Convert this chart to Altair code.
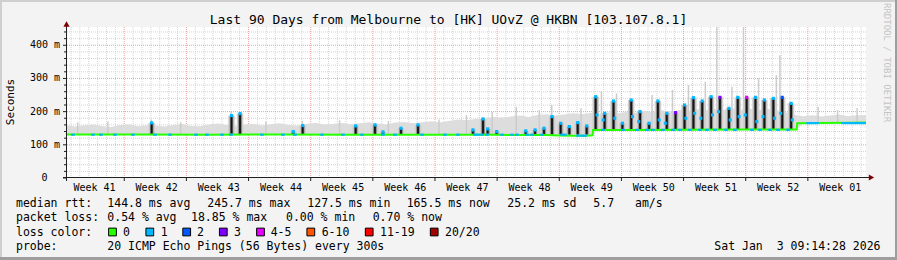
import altair as alt
import pandas as pd

# ------------------------------------------------------------------ data
title_text = "Last 90 Days from Melbourne to [HK] UOvZ @ HKBN [103.107.8.1]"
y_title = "Seconds"
watermark = "RRDTOOL / TOBI OETIKER"

week_labels = ["Week 41", "Week 42", "Week 43", "Week 44", "Week 45", "Week 46", "Week 47",
               "Week 48", "Week 49", "Week 50", "Week 51", "Week 52", "Week 01"]
week_label_day = [3.1, 10.1, 17.1, 24.1, 31.1, 38.1, 45.1, 52.1, 59.1, 66.1, 73.1, 80.1, 87.1]
week_start_day = [6.45, 13.45, 20.45, 27.45, 34.45, 41.45, 48.45, 55.45, 62.45, 69.45, 76.45, 83.45]

y_major_ms = [100, 200, 300, 400]
y_major_label = ["100 m", "200 m", "300 m", "400 m"]

# median rtt (ms) at break points (days since start of the 90-day window)
median_day = [0, 8, 16, 24, 32, 40, 48, 54, 55.5, 57, 58.5, 59.2, 59.25, 64, 70, 76, 82.2,
              82.25, 85, 88, 90]
median_ms = [131, 131, 130.5, 131, 130.5, 130.5, 130, 129.5, 128, 127, 127.5, 128.5, 145, 145,
             145.5, 146, 146, 165, 165.5, 166.5, 167]

# smoke (ping spread) envelope, one reading per day
smoke_day = list(range(91))
smoke_low_ms = [130] * 60 + [145] * 23 + [165] * 8
smoke_top_ms = [158, 155, 159, 161, 156, 154, 160, 162, 156, 159,
                158, 155, 160, 163, 157, 156, 161, 164, 160, 157,
                161, 163, 158, 162, 165, 160, 158, 163, 166, 161,
                163, 166, 162, 165, 168, 164, 161, 167, 169, 165,
                168, 171, 167, 172, 176, 174, 178, 181, 184, 182,
                185, 188, 184, 190, 192, 188, 191, 195, 192, 196,
                192, 198, 194, 200, 196, 202, 198, 204, 200, 205,
                202, 207, 204, 208, 205, 210, 206, 209, 205, 208,
                204, 198, 190, 186, 189, 185, 188, 191, 186, 189, 190]

# isolated tall smoke strands
strand_day = [1.2, 4.6, 9.5, 12.8, 18.5, 22.4, 26.5, 30.7, 36.2, 41.9, 45.0, 47.9, 50.6, 53.2,
              54.6, 57.9, 60.2, 61.9, 65.9, 68.2, 70.0, 71.9, 73.2, 74.9, 76.2, 77.9, 79.9,
              80.3, 84.6, 86.8, 89.0]
strand_low_ms = [130] * 16 + [145] * 12 + [165] * 3
strand_top_ms = [168, 170, 175, 168, 200, 170, 172, 174, 172, 176, 190, 200, 215, 205, 220, 210,
                 262, 255, 250, 265, 280, 290, 455, 275, 455, 300, 310, 370, 215, 205, 210]

# spikes of the median (dark bars)
spike_day = [9.54, 18.53, 19.49, 25.49, 26.55, 32.52, 34.69, 35.59, 37.62, 39.54, 45.73, 46.86,
             47.39, 48.40, 51.67, 52.72, 53.73, 54.63, 55.61, 56.58, 57.53, 58.54,
             59.55, 60.56, 61.56, 62.56, 63.55, 64.55, 65.56, 66.56, 67.56, 68.55, 69.56,
             70.56, 71.55, 72.55, 73.55, 74.56, 75.56, 76.56, 77.55, 78.55, 79.56, 80.56, 81.56]
spike_base_ms = [131] * 22 + [145] * 23
spike_peak_ms = [166, 188, 194, 140, 158, 157, 160, 139, 150, 160, 145, 178,
                 148, 140, 142, 145, 150, 185, 165, 155, 167, 157,
                 245, 195, 232, 165, 235, 200, 165, 232, 195, 197, 220,
                 242, 232, 245, 243, 210, 243, 243, 243, 235, 240, 243, 225]
spike_top_loss = ["1"] * 31 + ["3"] + ["1"] * 4 + ["3"] + ["1", "1", "4-5", "1", "1", "1", "2", "1"]
# loss readings part-way up the big spikes
spike_mid_day = [59.7, 60.4, 61.7, 63.7, 64.4, 66.7, 67.4, 69.7, 70.7, 71.4, 72.7, 73.4, 74.7,
                 75.7, 76.4, 77.7, 78.4, 79.7, 80.4, 81.7]
spike_mid_ms = [190, 175, 180, 185, 170, 175, 165, 180, 195, 180, 190, 200, 175, 185, 190, 170,
                185, 180, 195, 175]

# short loss-coloured stretches of the median line
loss_mark_day = [0.68, 2.93, 3.83, 5.41, 7.43, 9.91, 11.60, 14.53, 15.77, 17.46, 18.47, 21.96,
                 24.33, 25.68, 28.72, 31.09, 33.23, 35.59, 36.95, 39.99, 42.58, 44.04, 45.96,
                 46.30, 46.75, 47.31, 49.00, 50.13, 50.69, 51.82, 52.38, 53.51, 55.76, 56.09,
                 57.56, 58.01, 58.35,
                 60.37, 62.63, 64.20, 65.33, 66.00, 67.13, 68.26, 69.05, 70.17, 71.30, 72.09,
                 72.99, 74.23, 75.24, 77.16, 78.06, 79.19, 80.09, 81.22,
                 83.47, 83.81, 84.15, 84.49, 87.42, 87.75, 88.09, 88.43, 88.77, 89.10, 89.44,
                 89.78]
loss_mark_ms = [130.5] * 34 + [127.5] * 3 + [145] * 19 + [165.5] * 12
loss_mark_class = ["1"] * 68

loss_classes = ["0", "1", "2", "3", "4-5", "6-10", "11-19", "20/20"]
loss_colors = ["#26ff00", "#00b8ff", "#0059ff", "#7e00ff", "#e600ff", "#ff5500", "#ff0000", "#a00000"]

median_stats = ["144.8 ms avg", "245.7 ms max", "127.5 ms min", "165.5 ms now", "25.2 ms sd",
                "5.7", "am/s"]
loss_stats = ["0.54 % avg", "18.85 % max", "0.00 % min", "0.70 % now"]
probe_text = "20 ICMP Echo Pings (56 Bytes) every 300s"
stamp_text = "Sat Jan\u00a0 3 09:14:28 2026"

# ------------------------------------------------------------------ layout
LEFT, TOP = 67, 27
W, H = 799, 151
CW, CH = 897, 260
MONO = "DejaVu Sans Mono"
X_DOMAIN = [0, 90]
Y_DOMAIN = [0, 455]
SEG_HALF = 0.2  # half length (days) of a drawn loss stretch

xs = alt.Scale(domain=X_DOMAIN, nice=False, zero=False)
ys = alt.Scale(domain=Y_DOMAIN, nice=False, zero=True)
GREEN = loss_colors[0]
color_map = dict(zip(loss_classes, loss_colors))


def X(f):
    return alt.X(f, type="quantitative", scale=xs, axis=None)


def Y(f):
    return alt.Y(f, type="quantitative", scale=ys, axis=None)


def PX(f):
    return alt.X(f, type="quantitative", scale=None, axis=None)


def PY(f):
    return alt.Y(f, type="quantitative", scale=None, axis=None)


layers = []

# --- grid
minor_h = [v for v in range(20, 455, 20) if v % 100]
layers.append(alt.Chart(pd.DataFrame({"v": minor_h})).mark_rule(
    color="#d4d4d4", strokeDash=[1, 1], strokeWidth=1).encode(
    y=Y("v"), x=alt.value(0), x2=alt.value(W)))
minor_v = [0.45 + d for d in range(90) if all(abs(0.45 + d - w) > 0.01 for w in week_start_day)]
layers.append(alt.Chart(pd.DataFrame({"d": minor_v})).mark_rule(
    color="#d4d4d4", strokeDash=[1, 1], strokeWidth=1).encode(
    x=X("d"), y=alt.value(0), y2=alt.value(H)))
layers.append(alt.Chart(pd.DataFrame({"v": y_major_ms})).mark_rule(
    color="#eea0a0", strokeDash=[1, 1], strokeWidth=1).encode(
    y=Y("v"), x=alt.value(0), x2=alt.value(W)))
layers.append(alt.Chart(pd.DataFrame({"d": week_start_day})).mark_rule(
    color="#eea0a0", strokeDash=[1, 1], strokeWidth=1).encode(
    x=X("d"), y=alt.value(0), y2=alt.value(H)))

# --- smoke
smoke = pd.DataFrame({"d": smoke_day, "lo": smoke_low_ms, "hi": smoke_top_ms})
layers.append(alt.Chart(smoke).mark_area(color="#dddddd", interpolate="linear").encode(
    x=X("d"), y=Y("hi"), y2="lo"))
strands = pd.DataFrame({"d": strand_day, "lo": strand_low_ms, "hi": strand_top_ms})
layers.append(alt.Chart(strands).mark_rule(color="#cccccc", strokeWidth=1.5).encode(
    x=X("d"), y=Y("lo"), y2="hi"))

# --- spikes
spikes = pd.DataFrame({"d": spike_day, "lo": spike_base_ms, "hi": spike_peak_ms,
                       "loss": spike_top_loss})
layers.append(alt.Chart(spikes).mark_rule(color="#cfcfcf", strokeWidth=6.5).encode(
    x=X("d"), y=Y("lo"), y2="hi"))
layers.append(alt.Chart(spikes).mark_rule(color="#7a7a7a", strokeWidth=3.5).encode(
    x=X("d"), y=Y("lo"), y2="hi"))
layers.append(alt.Chart(spikes).mark_rule(color="#141414", strokeWidth=1.8).encode(
    x=X("d"), y=Y("lo"), y2="hi"))

# --- median
med = pd.DataFrame({"d": median_day, "v": median_ms})
layers.append(alt.Chart(med).mark_line(color=GREEN, strokeWidth=2).encode(x=X("d"), y=Y("v")))

marks = pd.DataFrame({"d": loss_mark_day, "v": loss_mark_ms, "loss": loss_mark_class})
marks["c"] = marks["loss"].map(color_map)
layers.append(alt.Chart(marks).transform_calculate(
    d1=f"datum.d - {SEG_HALF}", d2=f"datum.d + {SEG_HALF}").mark_rule(strokeWidth=2.2).encode(
    x=X("d1:Q"), x2="d2:Q", y=Y("v"), color=alt.Color("c:N", scale=None)))
mids = pd.DataFrame({"d": spike_mid_day, "v": spike_mid_ms})
layers.append(alt.Chart(mids).mark_point(shape="square", filled=True, size=9, opacity=1,
                                          color=loss_colors[1]).encode(x=X("d"), y=Y("v")))
spikes["c"] = spikes["loss"].map(color_map)
layers.append(alt.Chart(spikes).mark_point(shape="square", filled=True, size=10, opacity=1).encode(
    x=X("d"), y=Y("hi"), color=alt.Color("c:N", scale=None)))

# --- axes
AX = "#202020"
ARROW = "#7f0000"
layers.append(alt.Chart(pd.DataFrame({"a": [0]})).mark_rule(color=AX, strokeWidth=1).encode(
    x=alt.value(-0.5), y=alt.value(-3), y2=alt.value(H + 3)))
layers.append(alt.Chart(pd.DataFrame({"a": [0]})).mark_rule(color=AX, strokeWidth=1).encode(
    y=alt.value(H - 0.5), x=alt.value(-4), x2=alt.value(W + 4)))
layers.append(alt.Chart(pd.DataFrame({"v": y_major_ms + [0]})).mark_rule(color=AX).encode(
    y=Y("v"), x=alt.value(-4), x2=alt.value(-1)))
layers.append(alt.Chart(pd.DataFrame({"v": minor_h})).mark_rule(color=AX).encode(
    y=Y("v"), x=alt.value(-3), x2=alt.value(-1)))
layers.append(alt.Chart(pd.DataFrame({"d": week_start_day})).mark_rule(color=AX).encode(
    x=X("d"), y=alt.value(H), y2=alt.value(H + 3)))
layers.append(alt.Chart(pd.DataFrame({"a": [0]})).mark_point(
    shape="triangle-up", filled=True, size=38, color=ARROW, opacity=1).encode(
    x=alt.value(-0.5), y=alt.value(-3)))
layers.append(alt.Chart(pd.DataFrame({"a": [0]})).mark_point(
    shape="triangle-right", filled=True, size=38, color=ARROW, opacity=1).encode(
    x=alt.value(W + 5.5), y=alt.value(H - 0.5)))

# --- tick labels
layers.append(alt.Chart(pd.DataFrame({"d": week_label_day, "t": week_labels})).mark_text(
    font=MONO, fontSize=10, color="#000000", baseline="middle", align="center").encode(
    x=X("d"), y=alt.value(H + 9.5), text="t:N"))
layers.append(alt.Chart(pd.DataFrame({"v": y_major_ms, "t": y_major_label})).mark_text(
    font=MONO, fontSize=10, color="#000000", baseline="middle", align="right").encode(
    y=Y("v"), x=alt.value(-7), text="t:N"))
layers.append(alt.Chart(pd.DataFrame({"v": [0], "t": ["0"]})).mark_text(
    font=MONO, fontSize=10, color="#000000", baseline="middle", align="right").encode(
    y=Y("v"), x=alt.value(-19.5), text="t:N"))

# --- free text in canvas pixels (converted to plot-relative)
texts = [
    (448.5, 19.5, title_text, 13, "center"),
    (16, 203.5, "median rtt:", 11.5, "left"),
    (107.3, 203.5, median_stats[0], 11.5, "left"),
    (207.3, 203.5, median_stats[1], 11.5, "left"),
    (307.3, 203.5, median_stats[2], 11.5, "left"),
    (406.7, 203.5, median_stats[3], 11.5, "left"),
    (507.3, 203.5, median_stats[4], 11.5, "left"),
    (593.3, 203.5, median_stats[5], 11.5, "left"),
    (635.0, 203.5, median_stats[6], 11.5, "left"),
    (16, 218, "packet loss:", 11.5, "left"),
    (107.3, 218, loss_stats[0], 11.5, "left"),
    (191.0, 218, loss_stats[1], 11.5, "left"),
    (286.0, 218, loss_stats[2], 11.5, "left"),
    (372.7, 218, loss_stats[3], 11.5, "left"),
    (16, 232.5, "loss color:", 11.5, "left"),
    (16, 246.5, "probe:", 11.5, "left"),
    (107.3, 246.5, probe_text, 11.5, "left"),
    (880.5, 246.5, stamp_text, 11.5, "right"),
]
label_x = [123, 160.7, 197, 234, 270.7, 321.7, 380, 445]
for lx, lab in zip(label_x, loss_classes):
    texts.append((lx, 232.5, lab, 11.5, "left"))

tdf = pd.DataFrame(texts, columns=["x", "y", "t", "s", "a"])
tdf["x"] = tdf["x"] - LEFT
tdf["y"] = tdf["y"] - TOP
for (s, a), g in tdf.groupby(["s", "a"]):
    layers.append(alt.Chart(g).mark_text(
        font=MONO, fontSize=float(s), color="#000000", baseline="middle", align=a).encode(
        x=PX("x"), y=PY("y"), text="t:N"))

# y title and watermark
layers.append(alt.Chart(pd.DataFrame({"x": [10.5 - LEFT], "y": [102 - TOP], "t": [y_title]})).mark_text(
    font=MONO, fontSize=11, color="#000000", angle=270, baseline="middle", align="center").encode(
    x=PX("x"), y=PY("y"), text="t:N"))
layers.append(alt.Chart(pd.DataFrame({"x": [887 - LEFT], "y": [3 - TOP], "t": [watermark]})).mark_text(
    font=MONO, fontSize=9, color="#c4c4c4", angle=90, baseline="middle", align="left").encode(
    x=PX("x"), y=PY("y"), text="t:N"))

# legend squares
sq_x = [112.5, 149.8, 186.7, 223.3, 260.5, 310.8, 369.2, 434.2]
sq = pd.DataFrame({"x": [v - LEFT for v in sq_x], "y": [232 - TOP] * 8, "c": loss_colors})
layers.append(alt.Chart(sq).mark_point(shape="square", filled=True, size=60, stroke="#000000",
                                        strokeWidth=1, opacity=1).encode(
    x=PX("x"), y=PY("y"), fill=alt.Fill("c:N", scale=None)))

# frame (3d border)
fr = [
    (-LEFT, -TOP + 1, CW - LEFT, -TOP + 1, "#cfcfcf", 2),
    (-LEFT + 1, -TOP, -LEFT + 1, CH - TOP, "#cfcfcf", 2),
    (-LEFT, CH - TOP - 1.5, CW - LEFT, CH - TOP - 1.5, "#9e9e9e", 3),
    (CW - LEFT - 1, -TOP, CW - LEFT - 1, CH - TOP, "#9e9e9e", 2),
]
for x1, y1, x2, y2, c, w in fr:
    layers.append(alt.Chart(pd.DataFrame({"a": [0]})).mark_rule(color=c, strokeWidth=w).encode(
        x=alt.value(x1), y=alt.value(y1), x2=alt.value(x2), y2=alt.value(y2)))

chart = alt.layer(*layers).resolve_scale(x="independent", y="independent").properties(
    width=W, height=H,
    padding={"left": LEFT, "top": TOP, "right": CW - LEFT - W, "bottom": CH - TOP - H},
    autosize=alt.AutoSizeParams(type="none"),
    background="#f3f3f3",
).configure_view(fill="#ffffff", strokeWidth=0)

chart.save("out.html", embed_options={"renderer": "svg", "actions": False})
